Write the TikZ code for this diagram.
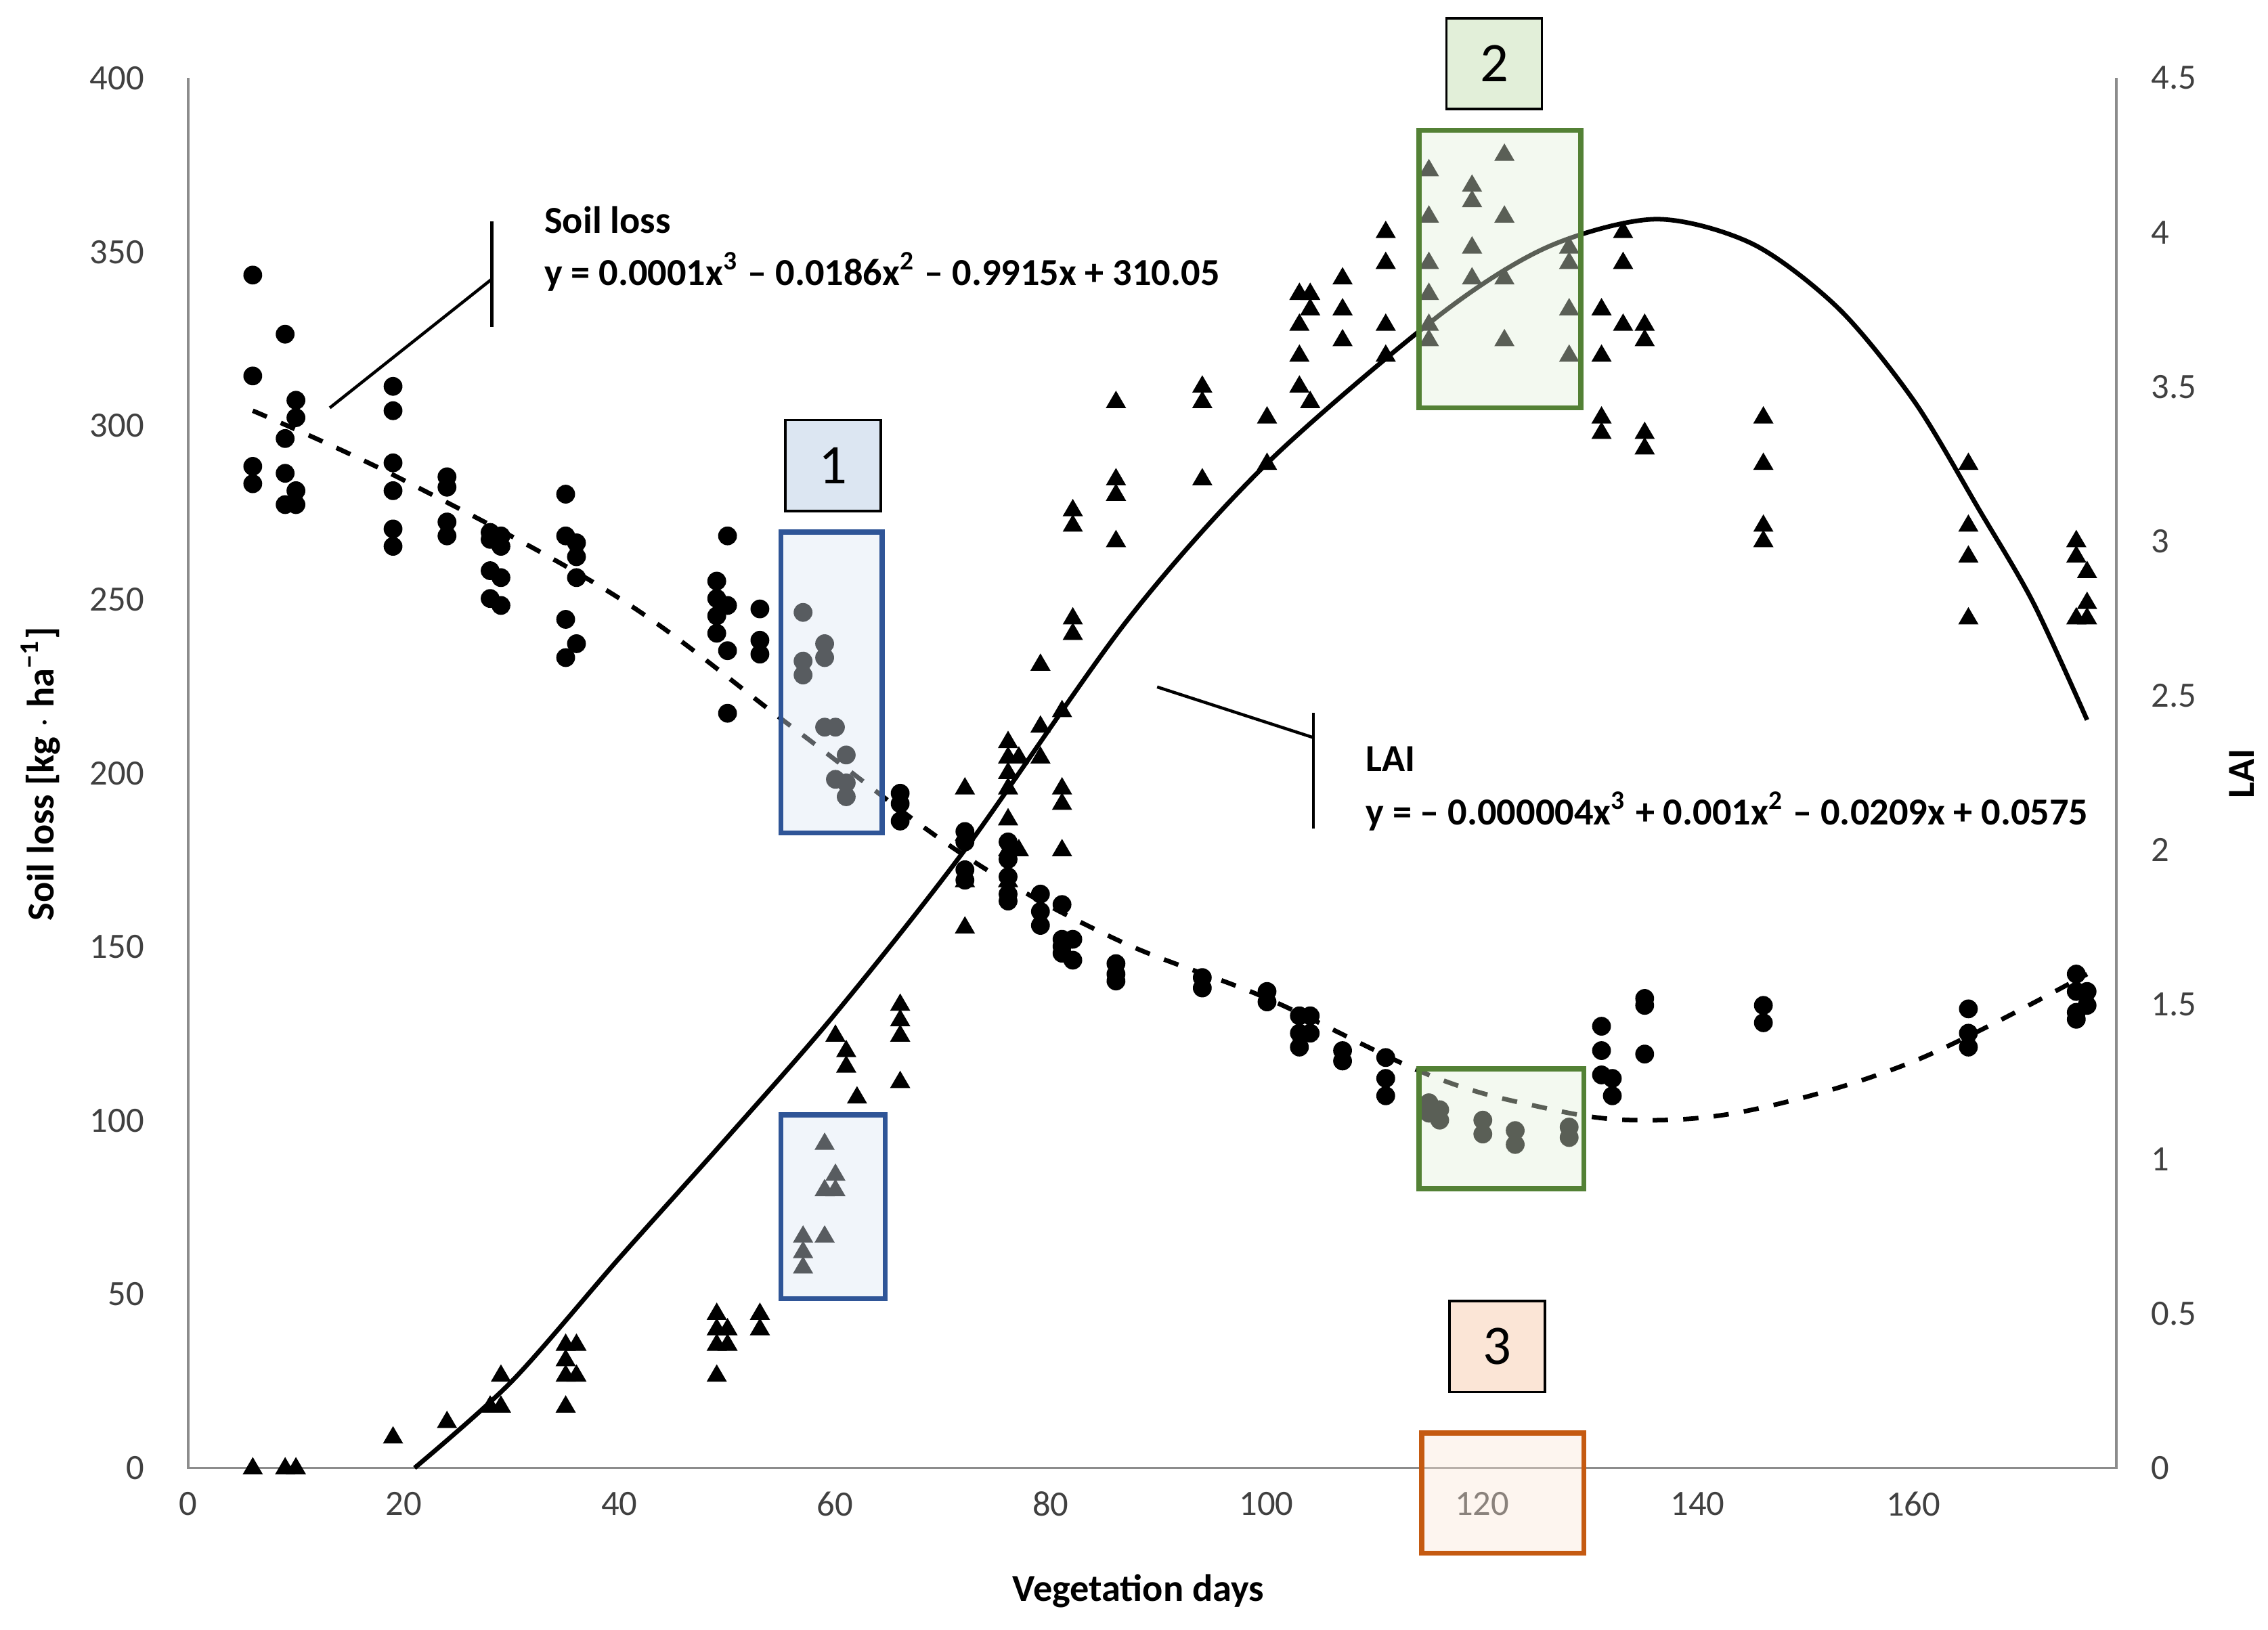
\documentclass[tikz,border=0pt]{standalone}
\usepackage{fontspec}
\setmainfont{Carlito}
\begin{document}
\begin{tikzpicture}[x=0.01cm,y=-0.01cm,
  tick/.style={font=\fontsize{7}{8}\selectfont, text=black!75},
  ttl/.style={font=\bfseries\fontsize{7.5}{9}\selectfont},
  eq/.style={font=\bfseries\fontsize{7.5}{9}\selectfont, anchor=west},
  num/.style={draw=black, line width=0.5pt, minimum width=0.66cm, minimum height=0.63cm, font=\fontsize{11}{12}\selectfont},
  hbox/.style={fill opacity=0.4, line width=1pt},
  axis/.style={draw=black!45, line width=0.5pt}]
\useasboundingbox (0,0) rectangle (1568,1127);
\definecolor{bfill}{HTML}{DCE6F2}\definecolor{bline}{HTML}{2F5597}
\definecolor{gfill}{HTML}{E2EFD9}\definecolor{gline}{HTML}{538135}
\definecolor{ofill}{HTML}{FBE5D6}\definecolor{oline}{HTML}{C55A11}
% axes
\draw[axis] (130,54) -- (130,1015) -- (1463,1015) -- (1463,54);
\foreach \v [count=\i from 0] in {0,50,...,400}
  \node[tick, anchor=east] at (112,{1015-\i*120.1}) {\v};
\foreach \v [count=\i from 0] in {0,0.5,1,1.5,2,2.5,3,3.5,4,4.5}
  \node[tick, anchor=west] at (1475,{1015-\i*106.8}) {\v};
\foreach \v [count=\i from 0] in {0,20,...,160}
  \node[tick] at ({130+\i*149.1},1040) {\v};
\node[ttl, rotate=90] at (28,535) {Soil loss [kg $\cdot$ ha\textsuperscript{−1}]};
\node[ttl, rotate=90] at (1550,535) {LAI};
\node[ttl] at (787,1100) {Vegetation days};
% soil loss data
\begin{scope}[shift={(130,1015)}, x={(0.07456cm,0)}, y={(0,0.024025cm)}]
\foreach \d/\vs in {6/{343,314,288,283},9/{326,296,286,277},10/{307,302,281,277},
 19/{311,304,289,281,270,265},24/{285,282,272,268},28/{269,267,258,250},29/{268,265,256,248},
 35/{280,268,244,233},36/{266,262,256,237},49/{255,250,245,240},50/{268,248,235,217},
 53/{247,238,234},57/{246,232,228},59/{237,233,213},60/{213,198},61/{205,197,193},
 66/{194,191,186},72/{183,180,172,169},76/{180,175,170,165,163},79/{165,160,156},
 81/{162,152,150,148},82/{152,146},86/{145,142,140},94/{141,138},100/{137,134},
 103/{130,125,121},104/{130,125},107/{120,117},111/{118,112,107},115/{105,102},116/{103,100},
 120/{100,96},123/{97,93},128/{98,95},131/{127,120,113},132/{112,107},135/{135,133,119},
 146/{133,128},165/{132,125,121},175/{142,137,131,129},176/{137,133}}
 {\foreach \v in \vs {\fill (\d,\v) circle (0.065cm);}}
\draw[dashed, line width=0.9pt] plot[smooth, tension=0.6] coordinates {(6,304) (20,284) (40,250) (56,213) (72,176) (86,152) (100,135) (115,113) (125,104) (134,100) (145,103) (160,117) (176,142)};
\end{scope}
% LAI data
\begin{scope}[shift={(130,1015)}, x={(0.07456cm,0)}, y={(0,2.136cm)}]
\foreach \d/\vs in {6/{0},9/{0},10/{0},19/{0.1},24/{0.15},28/{0.2},29/{0.3,0.2},
 35/{0.4,0.35,0.3,0.2},36/{0.4,0.3},49/{0.5,0.45,0.4,0.3},50/{0.45,0.4},53/{0.5,0.45},
 57/{0.75,0.7,0.65},59/{1.05,0.9,0.75},60/{1.4,0.95,0.9},61/{1.35,1.3},62/{1.2},
 66/{1.5,1.45,1.4,1.25},72/{2.2,2.05,1.9,1.75},76/{2.35,2.3,2.25,2.2,2.1,2.0,1.9},77/{2.3,2.0},
 79/{2.6,2.4,2.3},81/{2.45,2.2,2.15,2.0},82/{3.1,3.05,2.75,2.7},86/{3.45,3.2,3.15,3.0},
 94/{3.5,3.45,3.2},100/{3.4,3.25},103/{3.8,3.7,3.6,3.5},104/{3.8,3.75,3.45},107/{3.85,3.75,3.65},
 111/{4.0,3.9,3.7,3.6},115/{4.2,4.05,3.9,3.8,3.7,3.65},119/{4.15,4.1,3.95,3.85},
 122/{4.25,4.05,3.85,3.65},128/{3.95,3.9,3.75,3.6},131/{3.75,3.6,3.4,3.35},133/{4.0,3.9,3.7},
 135/{3.7,3.65,3.35,3.3},146/{3.4,3.25,3.05,3.0},165/{3.25,3.05,2.95,2.75},
 175/{3.0,2.95,2.75},176/{2.9,2.8,2.75}}
 {\foreach \v in \vs {\fill (\d,\v) ++(0,0.075cm) -- ++(-0.07cm,-0.12cm) -- ++(0.14cm,0) -- cycle;}}
\draw[line width=0.9pt] plot[smooth, tension=0.5] coordinates {(21,0) (30,0.28) (40,0.68) (50,1.07) (60,1.47) (72,2.0) (87,2.74) (100,3.25) (116,3.73) (126,3.95) (136,4.04) (145,3.96) (153,3.75) (160,3.45) (166,3.1) (171,2.8) (176,2.42)};
\end{scope}
% highlight boxes
\draw[bline, fill=bfill, hbox] (540,368) rectangle (610,576);
\draw[bline, fill=bfill, hbox] (540,771) rectangle (612,898);
\draw[gline, fill=gfill, hbox] (981,90) rectangle (1093,282);
\draw[gline, fill=gfill, hbox] (981,739) rectangle (1095,822);
\draw[oline, fill=ofill, hbox] (983,991) rectangle (1095,1074);
\node[num, fill=bfill] (n1) at (576,322) {1};
\node[num, fill=gfill] (n2) at (1033,44) {2};
\node[num, fill=ofill] (n3) at (1035,931) {3};
% annotations
\coordinate (s1) at (228,282); \coordinate (s2) at (340,193);
\coordinate (s3) at (340,153); \coordinate (s4) at (340,226);
\draw[line width=0.6pt] (s1) -- (s2); \draw[line width=0.6pt] (s3) -- (s4);
\node[eq] (st) at (364,152) {Soil loss};
\node[eq] (se) at (364,188) {y = 0.0001x\textsuperscript{3} – 0.0186x\textsuperscript{2} – 0.9915x + 310.05};
\coordinate (l1) at (800,475); \coordinate (l2) at (908,510);
\coordinate (l3) at (908,493); \coordinate (l4) at (908,573);
\draw[line width=0.6pt] (l1) -- (l2); \draw[line width=0.6pt] (l3) -- (l4);
\node[eq] (lt) at (932,525) {LAI};
\node[eq] (le) at (932,561) {y = – 0.000004x\textsuperscript{3} + 0.001x\textsuperscript{2} – 0.0209x + 0.0575};
\end{tikzpicture}
\end{document}
